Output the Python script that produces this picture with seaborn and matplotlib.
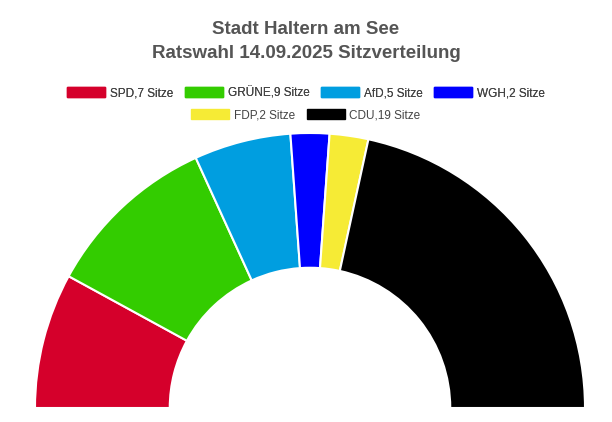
import matplotlib.pyplot as plt
import matplotlib.patches as mpatches
import seaborn as sns

parties = ["SPD", "GRÜNE", "AfD", "WGH", "FDP", "CDU"]
seats = [7, 9, 5, 2, 2, 19]
colors = ["#d5002b", "#33cc00", "#009ee0", "#0000ff", "#f6eb35", "#000000"]

sns.set_theme(style="white")
plt.rcParams['font.family'] = ['Liberation Sans', 'DejaVu Sans']

fig = plt.figure(figsize=(6.12, 4.22), dpi=100)
W, H = 612, 422
cx, cy, r = 310, 14, 275
ax = fig.add_axes([(cx - r) / W, (cy - r) / H, 2 * r / W, 2 * r / H])
ax.pie(seats + [sum(seats)], colors=colors + ["none"], startangle=180, counterclock=False,
       radius=1, wedgeprops=dict(width=0.49, edgecolor="white", linewidth=1.5))
# hide the bottom helper wedge edge
ax.patches[-1].set_edgecolor("none")
ax.set_xlim(-1, 1)
ax.set_ylim(-1, 1)
ax.axis("off")

fig.text(0.5, 1 - 30 / H, "Stadt Haltern am See", ha="center", va="center",
         fontsize=13.5, fontweight="bold", color="#555555")
fig.text(0.5, 1 - 53 / H, "Ratswahl 14.09.2025 Sitzverteilung", ha="center", va="center",
         fontsize=13.5, fontweight="bold", color="#555555")

handles = [mpatches.Patch(color=c, label=f"{p},{s} Sitze") for p, s, c in zip(parties, seats, colors)]
kw = dict(frameon=False, fontsize=8.5, handlelength=3.2, handleheight=0.9,
          columnspacing=1.0, handletextpad=0.4, labelcolor="#444444")
leg1 = fig.legend(handles=handles[:4], ncol=4, loc="center", bbox_to_anchor=(0.5, 1 - 93 / H), **kw)
fig.add_artist(leg1)
fig.legend(handles=handles[4:], ncol=2, loc="center", bbox_to_anchor=(0.5, 1 - 115 / H), **kw)

fig.savefig("out.png", dpi=100)
